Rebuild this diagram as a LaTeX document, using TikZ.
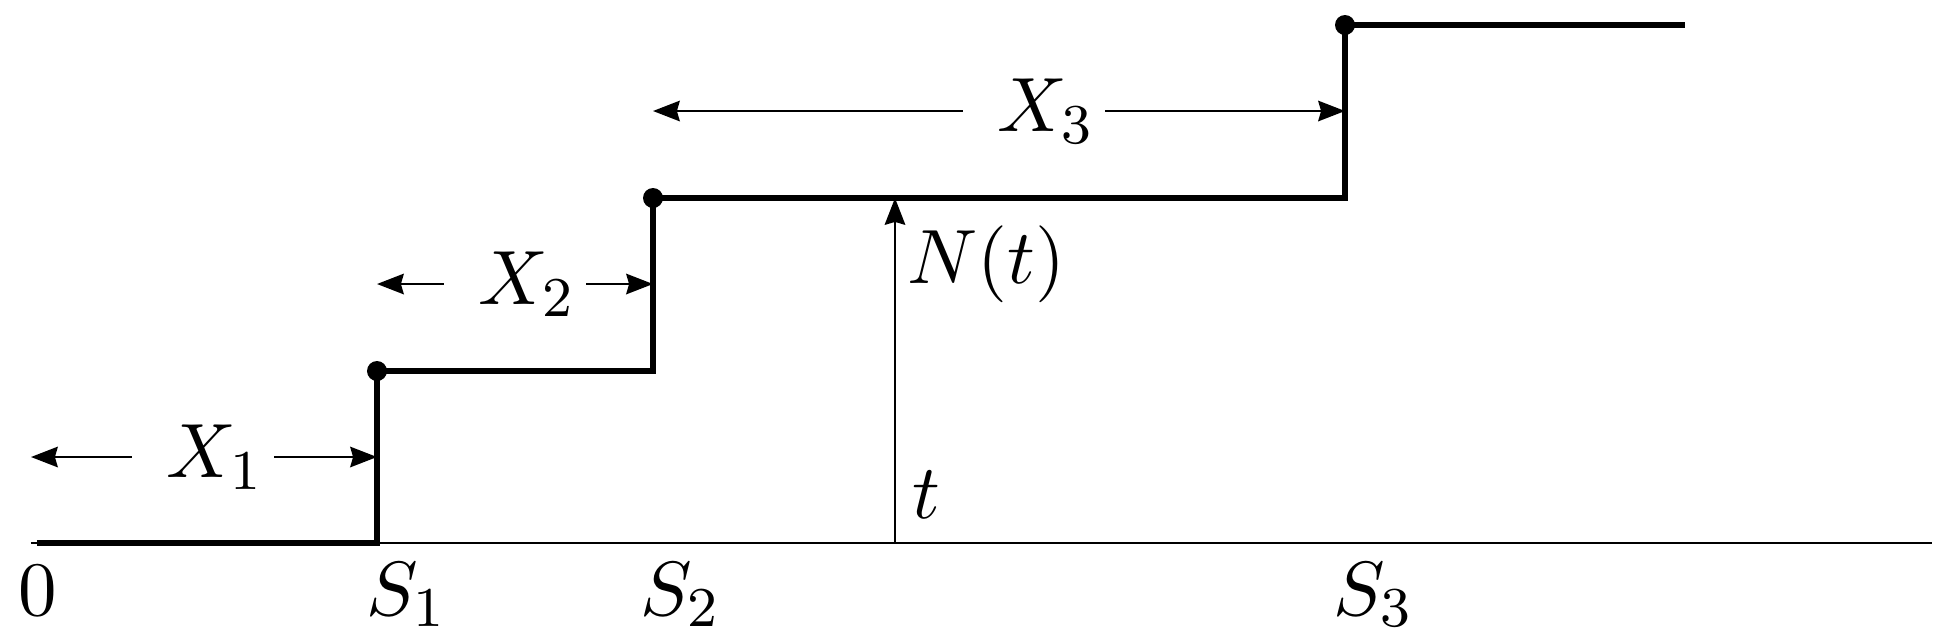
\documentclass[tikz,border=0pt,11pt]{standalone}
\usepackage{amsmath,amssymb}
\usepackage{tikz}
\usetikzlibrary{arrows.meta}

\begin{document}
\begin{tikzpicture}[
    step line/.style={line width=0.8pt},
    dim/.style={-{Stealth[length=3.8pt,width=2.9pt,inset=0.4pt]}, line width=0.4pt},
    lbl/.style={minimum width=0.7cm, inner sep=0pt},
    jump/.style={circle, fill, inner sep=0pt, minimum size=1mm}]
  \useasboundingbox (0,0) rectangle (9.69,3.195);
  % time axis and ticks
  \coordinate (o)  at (0.155,0.48);
  \coordinate (z)  at (0.185,0.48);
  \coordinate (e)  at (9.66,0.48);
  \coordinate (s1) at (1.885,0.48);
  \coordinate (s2) at (3.265,0.48);
  \coordinate (s3) at (6.725,0.48);
  \coordinate (tt) at (4.475,0.48);
  \draw (o) -- (e);
  % jump points
  \node[jump] (p1) at (1.885,1.34)  {};
  \node[jump] (p2) at (3.265,2.205) {};
  \node[jump] (p3) at (6.725,3.07)  {};
  \coordinate (q3) at (8.425,3.07);
  \draw[step line] (z) -- (s1) -- (p1.center) -- (p1 -| s2) -- (p2.center)
    -- (p2 -| s3) -- (p3.center) -- (q3);
  % interarrival times
  \node[lbl] (x1) at (1.015,0.91)  {\hspace{0.12cm}$X_1$};
  \node[lbl] (x2) at (2.575,1.775) {\hspace{0.12cm}$X_2$};
  \node[lbl] (x3) at (5.17,2.64)   {\hspace{0.12cm}$X_3$};
  \draw[dim] (x1) -- (x1 -| o);
  \draw[dim] (x1) -- (x1 -| s1);
  \draw[dim] (x2) -- (x2 -| s1);
  \draw[dim] (x2) -- (x2 -| s2);
  \draw[dim] (x3) -- (x3 -| s2);
  \draw[dim] (x3) -- (x3 -| s3);
  % N(t)
  \draw[dim] (tt) -- (tt |- p2);
  \node[anchor=north west, inner sep=0pt] (nt) at (4.53,2.075) {$N(t)$};
  \node[anchor=base] (t) at (4.63,0.605) {$t$};
  % labels on the axis
  \node[anchor=base] (l0) at (0.19,0.12)  {$0$};
  \node[anchor=base] (l1) at (2.035,0.12) {$S_1$};
  \node[anchor=base] (l2) at (3.405,0.12) {$S_2$};
  \node[anchor=base] (l3) at (6.87,0.12)  {$S_3$};
\end{tikzpicture}
\end{document}
